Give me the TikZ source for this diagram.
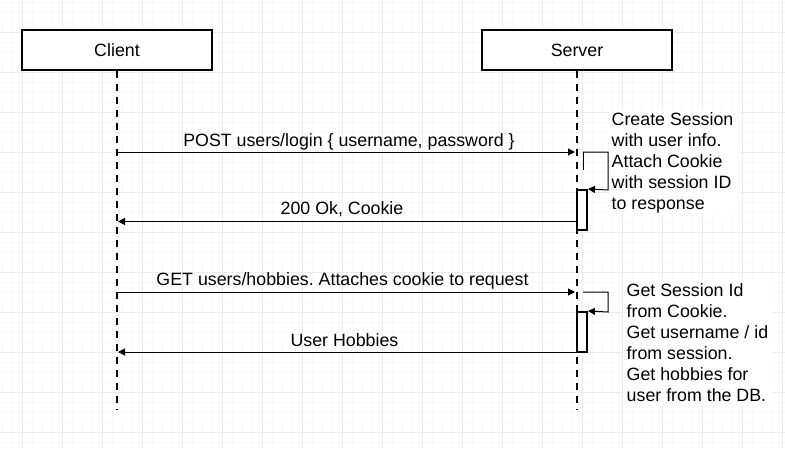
\documentclass[tikz,border=0pt]{standalone}
\usepackage{fontspec}
\setmainfont{Liberation Sans}
\usetikzlibrary{arrows.meta}
\frenchspacing
\begin{document}
\begin{tikzpicture}[x=1pt,y=-1pt,
  every node/.style={font=\fontsize{17.8}{21}\selectfont},
  actor/.style={draw=black,line width=2pt,fill=white,minimum width=190pt,minimum height=40pt,inner sep=0pt},
  life/.style={line width=2pt,dash pattern=on 7pt off 6pt},
  act/.style={draw=black,line width=2pt,fill=white,minimum width=10pt,minimum height=40pt,inner sep=0pt},
  msg/.style={line width=1pt,-{Triangle[length=7pt,width=7pt]}},
  lbl/.style={anchor=base,inner sep=0pt},
  note/.style={anchor=base west,inner sep=0pt}]
\useasboundingbox (0,0) rectangle (785,448);
\fill[white] (0,0) rectangle (785,448);
% grid
\foreach \gx in {2,12,...,782} \draw[line width=1pt,color={rgb,255:red,248;green,248;blue,248}] (\gx,0) -- (\gx,448);
\foreach \gy in {2,12,...,442} \draw[line width=1pt,color={rgb,255:red,248;green,248;blue,248}] (0,\gy) -- (785,\gy);
\foreach \gx in {22,62,...,782} \draw[line width=1pt,color={rgb,255:red,236;green,236;blue,236}] (\gx,0) -- (\gx,448);
\foreach \gy in {32,72,...,432} \draw[line width=1pt,color={rgb,255:red,236;green,236;blue,236}] (0,\gy) -- (785,\gy);
% actors
\node[actor] (client) at (117,50) {Client};
\node[actor] (server) at (577,50) {Server};
\coordinate (cend) at (117,410);
\coordinate (send) at (577,410);
\draw[life] (client.south) -- (cend);
\draw[life] (server.south) -- (send);
% activations
\node[act] (a1) at (582,210) {};
\node[act] (a2) at (582,332) {};
% coordinates
\coordinate (m1s) at (117,152);
\coordinate (m1e) at (575,152);
\coordinate (s1a) at (583,152);
\coordinate (s1b) at (608,152);
\coordinate (s1c) at (608,190);
\coordinate (s1d) at (583,170);
\coordinate (m2s) at (577,221.5);
\coordinate (m2e) at (118,221.5);
\coordinate (m3s) at (117,292);
\coordinate (m3e) at (575,292);
\coordinate (s2a) at (583,292);
\coordinate (s2b) at (608,292);
\coordinate (s2c) at (608,312);
\coordinate (m4s) at (577,352);
\coordinate (m4e) at (118,352);
% messages
\draw[msg] (m1s) -- (m1e);
\draw[line width=1pt] (s1d) -- (s1a);
\draw[msg] (s1a) -- (s1b) -- (s1c) -- (a1.north east);
\draw[msg] (m2s) -- (m2e);
\draw[msg] (m3s) -- (m3e);
\draw[msg] (s2a) -- (s2b) -- (s2c) -- (a2.north east);
\draw[msg] (m4s) -- (m4e);
% labels
\node[lbl] (l1) at (349,146) {POST users/login \{ username, password \}};
\node[lbl] (l2) at (342,214.5) {200 Ok, Cookie};
\node[lbl] (l3) at (342.5,285.5) {GET users/hobbies. Attaches cookie to request};
\node[lbl] (l4) at (344.5,346) {User Hobbies};
% notes
\fill[white] (609,110) rectangle (740,214);
\fill[white] (623,280) rectangle (773,407);
\node[note] (n1a) at (611.5,125) {Create Session};
\node[note] (n1b) at (611.5,146) {with user info.};
\node[note] (n1c) at (611.5,167) {Attach Cookie};
\node[note] (n1d) at (611.5,188) {with session ID};
\node[note] (n1e) at (611.5,209) {to response};
\node[note] (n2a) at (626.5,296) {Get Session Id};
\node[note] (n2b) at (626.5,317) {from Cookie.};
\node[note] (n2c) at (626.5,338) {Get username / id};
\node[note] (n2d) at (626.5,359) {from session.};
\node[note] (n2e) at (626.5,380) {Get hobbies for};
\node[note] (n2f) at (626.5,401) {user from the DB.};
\end{tikzpicture}
\end{document}
